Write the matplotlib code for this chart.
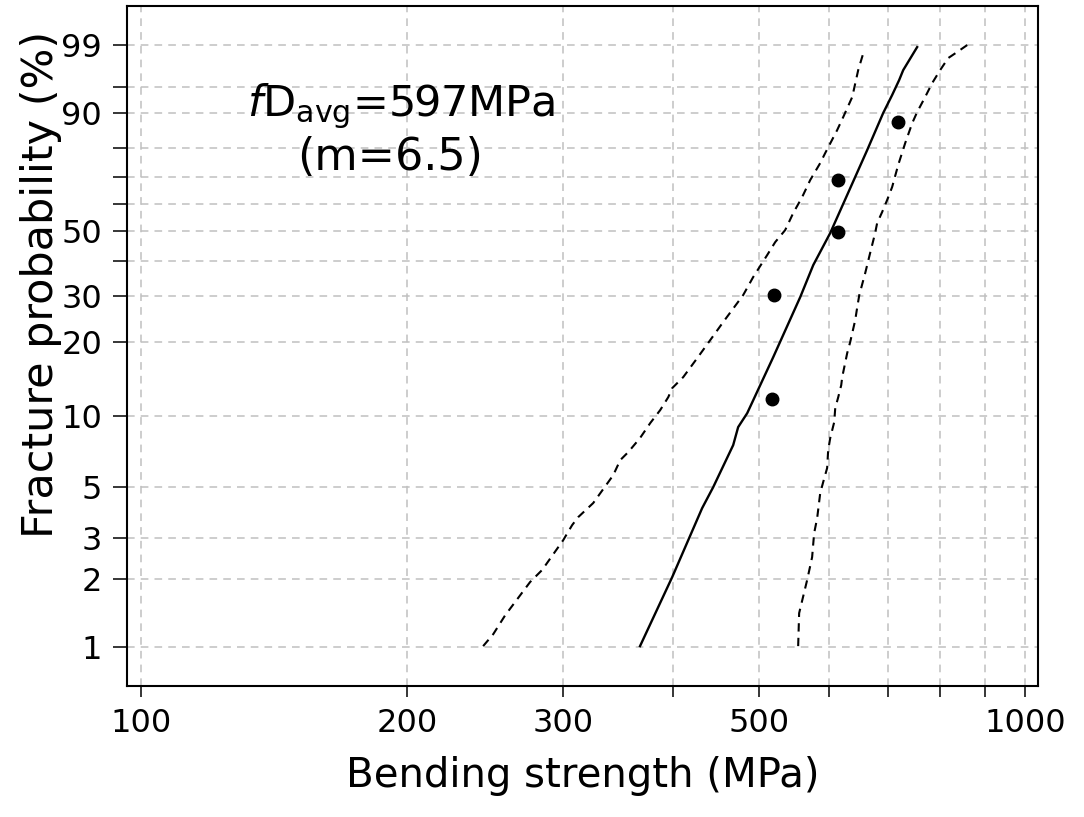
import numpy as np
import matplotlib
matplotlib.use("Agg")
import matplotlib.pyplot as plt

# Weibull plot data (strength in MPa, fracture probability in %)
pts_strength = [517.4, 520.1, 613.4, 613.4, 717.1]
pts_prob = [11.8, 30.3, 49.6, 68.8, 87.7]

fit_strength = [366.7, 398.8, 431.1, 443.7, 467.4, 473.5, 484.8, 518.8, 556.6,
                575.8, 601.8, 662.6, 690.8, 707.1, 720.2, 727.8, 754.7]
fit_prob = [1.01, 2.03, 4.05, 4.99, 7.55, 9.00, 10.30, 17.49, 29.83,
            38.78, 49.33, 79.42, 90.03, 93.72, 96.03, 97.18, 98.90]

low_strength = [243.7, 250.2, 258.1, 275.4, 284.2, 300.2, 307.3, 312.1, 324.6,
                342.0, 348.3, 355.6, 366.7, 376.6, 386.5, 394.7, 398.8, 410.4,
                425.6, 440.3, 455.4, 479.7, 492.4, 510.7, 521.5, 535.2, 546.5,
                559.4, 571.2, 586.3, 594.0, 612.8, 622.5, 637.3, 647.3, 657.5]
low_prob = [1.01, 1.14, 1.38, 1.93, 2.18, 2.94, 3.42, 3.70, 4.26,
            5.62, 6.52, 7.05, 8.09, 9.36, 10.61, 12.01, 13.09, 14.52,
            17.33, 20.44, 24.02, 30.33, 35.23, 41.92, 46.21, 50.37, 56.52,
            62.48, 68.81, 74.97, 78.44, 85.61, 89.05, 93.37, 97.18, 98.74]

up_strength = [553.6, 555.0, 566.7, 574.1, 577.1, 581.7, 586.3, 590.9, 597.0,
               598.6, 601.8, 608.1, 609.7, 614.5, 619.3, 620.9, 629.0, 633.9,
               642.3, 645.7, 649.1, 659.2, 667.7, 676.5, 680.0, 688.9, 697.9,
               707.1, 718.3, 731.6, 745.1, 754.7, 770.6, 784.9, 801.3, 818.3,
               837.7, 859.8]
up_prob = [1.01, 1.41, 1.97, 2.48, 3.15, 3.67, 4.70, 5.25, 6.03,
           7.19, 8.09, 9.45, 10.81, 12.01, 13.46, 14.52, 18.15, 20.07,
           24.44, 27.38, 30.33, 36.37, 42.55, 49.33, 52.86, 56.88, 61.34,
           66.23, 74.28, 81.71, 87.52, 90.25, 93.37, 95.62, 97.18, 98.23,
           98.63, 99.00]

x_ticks = [100, 200, 300, 400, 500, 600, 700, 800, 900, 1000]
x_labels = ["100", "200", "300", "", "500", "", "", "", "", "1000"]
y_ticks = [1, 2, 3, 5, 10, 20, 30, 40, 50, 60, 70, 80, 90, 95, 99]
y_labels = ["1", "2", "3", "5", "10", "20", "30", "", "50", "", "", "", "90", "", "99"]


def weibull_fwd(p):
    p = np.clip(np.asarray(p, dtype=float), 1e-6, 100 - 1e-9) / 100.0
    return np.log(-np.log(1.0 - p))


def weibull_inv(w):
    return 100.0 * (1.0 - np.exp(-np.exp(np.asarray(w, dtype=float))))


plt.rcParams['font.family'] = ['DejaVu Sans']

fig = plt.figure(figsize=(10.84, 8.17), dpi=100)
ax = fig.add_axes([0.1172, 0.1603, 0.8404, 0.8323])

ax.set_xscale('log')
ax.set_yscale('function', functions=(weibull_fwd, weibull_inv))

ax.plot(fit_strength, fit_prob, color='black', lw=1.7, zorder=3)
ax.plot(low_strength, low_prob, color='black', lw=1.5, linestyle=(0, (4, 3)), zorder=3)
ax.plot(up_strength, up_prob, color='black', lw=1.5, linestyle=(0, (4, 3)), zorder=3)
ax.plot(pts_strength, pts_prob, 'o', color='black', markersize=9, zorder=4)

ax.set_xlim(96.4, 1034)
ax.set_ylim(0.674, 99.894)

ax.xaxis.set_major_locator(matplotlib.ticker.FixedLocator(x_ticks))
ax.xaxis.set_major_formatter(matplotlib.ticker.FixedFormatter(x_labels))
ax.xaxis.set_minor_locator(matplotlib.ticker.NullLocator())
ax.yaxis.set_major_locator(matplotlib.ticker.FixedLocator(y_ticks))
ax.yaxis.set_major_formatter(matplotlib.ticker.FixedFormatter(y_labels))
ax.yaxis.set_minor_locator(matplotlib.ticker.NullLocator())

ax.tick_params(axis='x', direction='out', length=8, width=1.1, pad=8, labelsize=23)
ax.tick_params(axis='y', direction='out', length=10, width=1.1, pad=8, labelsize=23)

ax.grid(True, color='#c0c0c0', linestyle=(0, (5, 4)), lw=1.1, zorder=0)
ax.set_axisbelow(True)
for s in ax.spines.values():
    s.set_linewidth(1.5)

ax.set_xlabel('Bending strength (MPa)', fontsize=29, labelpad=12)
ax.set_ylabel('Fracture probability (%)', fontsize=31)
ax.yaxis.set_label_coords(-0.071, 0.59)

ax.text(0.301, 0.852, r'$f$D$_{\rm avg}$=597MPa', transform=ax.transAxes,
        fontsize=31, ha='center', va='center')
ax.text(0.289, 0.778, '(m=6.5)', transform=ax.transAxes,
        fontsize=32, ha='center', va='center')

fig.savefig('out.png', dpi=100)
